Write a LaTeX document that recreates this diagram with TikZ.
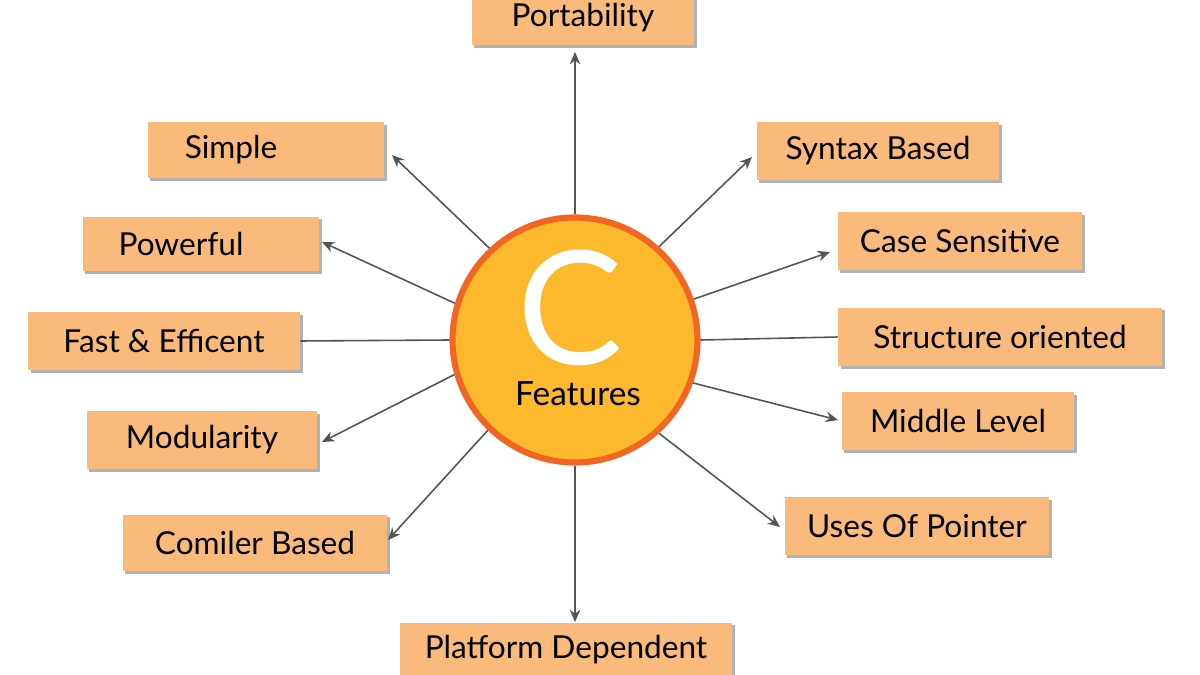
\documentclass[tikz,border=0pt]{standalone}
\usepackage{fontspec}
\setmainfont{Lato}
\usetikzlibrary{arrows.meta,shadows}
\definecolor{boxfill}{HTML}{F9BA7C}
\definecolor{ringfill}{HTML}{FDB92E}
\definecolor{ringline}{HTML}{F26522}
\definecolor{linkgray}{HTML}{555555}
\tikzset{
  featbox/.style={fill=boxfill,text=black,inner sep=0pt,font=\fontsize{18}{20}\selectfont,
    drop shadow={shadow xshift=1.5pt,shadow yshift=-1.5pt,fill=gray!60,opacity=1}},
  link/.style={draw=linkgray,line width=0.9pt,-{Stealth[length=7pt,width=6pt]}},
  plainlink/.style={draw=linkgray,line width=0.9pt}
}
\begin{document}
\begin{tikzpicture}[x=0.02cm,y=-0.02cm]
\useasboundingbox (0,0) rectangle (1200,675);
\fill[white] (0,0) rectangle (1200,675);
\node[circle,fill=ringfill,draw=ringline,line width=3.5pt,minimum size=4.9cm] (c) at (575,340) {};
\node[text=white,inner sep=0pt,text height=2.3cm,text depth=0pt,font=\fontsize{90}{90}\selectfont] (cc) at (570,307) {C};
\node[inner sep=0pt,font=\fontsize{19}{20}\selectfont] (feat) at (578,394) {Features};
% boxes
\node[featbox,minimum width=4.46cm,minimum height=1.1cm] (port) at (583,18) {Portability};
\node[featbox,minimum width=4.74cm,minimum height=1.12cm] (simp) at (266,150) {\hspace*{-1.4cm}Simple};
\node[featbox,minimum width=4.74cm,minimum height=1.1cm] (pow) at (201,244) {\hspace*{-0.8cm}Powerful};
\node[featbox,minimum width=5.44cm,minimum height=1.16cm] (fast) at (164,341) {Fast \& Efficent};
\node[featbox,minimum width=4.62cm,minimum height=1.16cm] (mod) at (202,440) {Modularity};
\node[featbox,minimum width=5.3cm,minimum height=1.14cm] (comp) at (255,543) {Comiler Based};
\node[featbox,minimum width=6.66cm,minimum height=1.1cm] (plat) at (566,650) {Platform Dependent};
\node[featbox,minimum width=4.86cm,minimum height=1.16cm] (synt) at (878,151) {Syntax Based};
\node[featbox,minimum width=4.9cm,minimum height=1.16cm] (case) at (960,241) {Case Sensitive};
\node[featbox,minimum width=6.48cm,minimum height=1.18cm] (stru) at (1000,337) {Structure oriented};
\node[featbox,minimum width=4.66cm,minimum height=1.16cm] (mid) at (958,421) {Middle Level};
\node[featbox,minimum width=5.3cm,minimum height=1.16cm] (uses) at (917,526) {Uses Of Pointer};
% arrow ends
\coordinate (portend) at (575,52);
\coordinate (simpend) at (392,155);
\coordinate (powend) at (322,242);
\coordinate (modend) at (322,442);
\coordinate (compend) at (388,540);
\coordinate (platend) at (575,622);
\coordinate (syntend) at (752,157);
\coordinate (caseend) at (830,252);
\coordinate (midend) at (838,420);
\coordinate (usesend) at (780,527);
\draw[link] (c.90) -- (portend);
\draw[link] (c.133) -- (simpend);
\draw[link] (c.163) -- (powend);
\draw[plainlink] (c.180) -- (fast.east);
\draw[link] (c.196) -- (modend);
\draw[link] (c.226) -- (compend);
\draw[link] (c.270) -- (platend);
\draw[link] (c.48) -- (syntend);
\draw[link] (c.19) -- (caseend);
\draw[plainlink] (c.0) -- (stru.west);
\draw[link] (c.-20) -- (midend);
\draw[link] (c.-48) -- (usesend);
\end{tikzpicture}
\end{document}
